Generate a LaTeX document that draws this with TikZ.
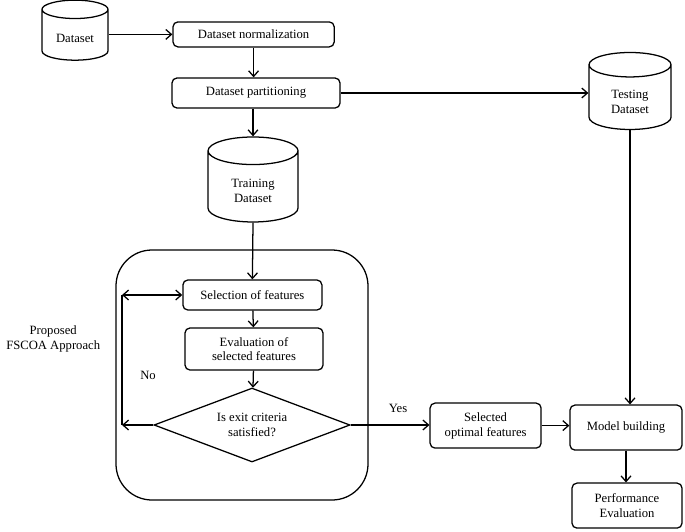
\documentclass[tikz,border=0pt]{standalone}
\usepackage{fontspec}
\setmainfont{Liberation Serif}
\usepackage{tikz}
\usetikzlibrary{arrows.meta, positioning, shapes.geometric, calc}

\begin{document}
\begin{tikzpicture}[
    font=\fontsize{9}{10.5}\selectfont,
    >={Straight Barb[length=4pt, width=7pt]},
    every path/.style={line width=0.9pt},
    box/.style={draw, rounded corners=3.5pt, align=center, inner sep=1pt},
    db/.style={draw, cylinder, shape border rotate=90, aspect=0.45, align=center, inner sep=1pt},
]
    \useasboundingbox (0, 0) rectangle (17.125, -13.275);

    % data sources
    \node[db, minimum width=1.65cm, minimum height=1.5cm, text height=8.2pt] (data) at (1.875, -0.91) {Dataset};
    \node[box, minimum width=4.03cm, minimum height=0.625cm] (norm) at (6.34, -0.86) {Dataset normalization};
    \node[box, minimum width=4.2cm, minimum height=0.75cm] (part) at (6.4, -2.325) {Dataset partitioning};
    \node[db, aspect=0.6, minimum width=2.05cm, minimum height=1.925cm, text height=20pt] (test) at (15.75, -2.475) {Testing\\Dataset};
    \node[db, aspect=0.6, minimum width=2.25cm, minimum height=2.125cm, text height=19.7pt] (train) at (6.325, -4.71) {Training\\Dataset};

    % FSCOA block
    \draw[rounded corners=0.9cm] (2.9, -6.25) rectangle (9.2, -12.5);
    \node[align=center] (fscoa) at (1.33, -8.475) {Proposed\\FSCOA Approach};
    \node[box, minimum width=3.475cm, minimum height=0.75cm] (sel) at (6.31, -7.375) {Selection of features};
    \node[box, minimum width=3.45cm, minimum height=1.05cm] (eval) at (6.35, -8.725) {Evaluation of\\selected features};
    \node[draw, diamond, aspect=2.65, inner sep=0pt, minimum width=4.9cm, minimum height=1.85cm, align=center] (exit) at (6.3, -10.625) {Is exit criteria\\satisfied?};
    \coordinate (lt) at (3.05, -7.375);
    \coordinate (lb) at (3.05, -10.625);
    \node (no) at (3.7, -9.375) {No};
    \node (yes) at (9.95, -10.2) {Yes};

    % results
    \node[box, minimum width=2.775cm, minimum height=1.125cm] (opt) at (12.14, -10.64) {Selected\\optimal features};
    \node[box, minimum width=2.8cm, minimum height=1.125cm] (model) at (15.65, -10.69) {Model building};
    \node[box, minimum width=2.75cm, minimum height=1.125cm] (perf) at (15.675, -12.64) {Performance\\Evaluation};

    \draw[->] (data.east |- norm.west) -- (norm.west);
    \draw[->] (norm.south) -- (norm.south |- part.north);
    \draw[->] (part.east) -- (part.east -| test.west);
    \draw[->] (part.south -| train.north) -- (train.north);
    \draw[->] (train.south) -- (sel.north);
    \draw[->] (sel) -- (eval);
    \draw[->] (eval) -- (exit);
    \draw[->] (exit.west) -- (lb);
    \draw (lb) -- (lt);
    \draw[<->] (lt) -- (sel.west);
    \draw[->] (exit.east) -- (opt.west |- exit.east);
    \draw[->] (opt.east) -- (opt.east -| model.west);
    \draw[->] (test.south) -- (test.south |- model.north);
    \draw[->] (model.south) -- (model.south |- perf.north);
\end{tikzpicture}
\end{document}
